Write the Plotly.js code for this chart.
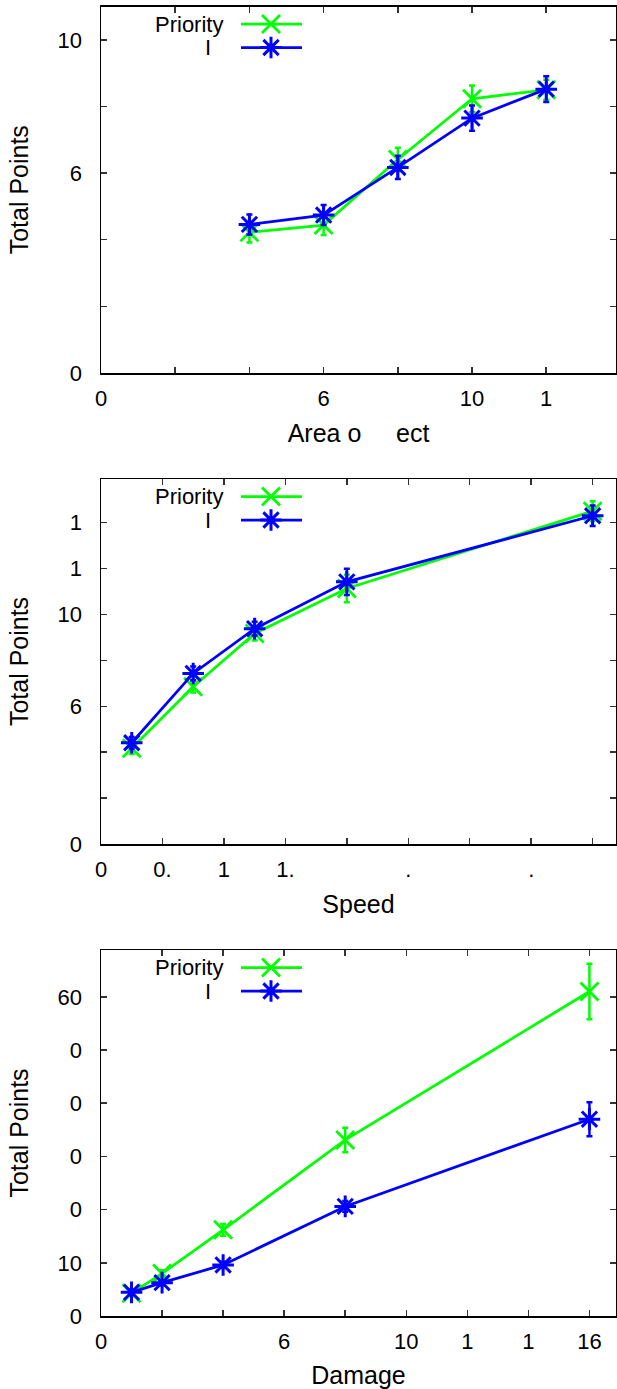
<!DOCTYPE html>
<html>
<head>
<meta charset="utf-8">
<script src="https://cdn.plot.ly/plotly-3.0.1.min.js"></script>
<style>
  html, body { margin: 0; padding: 0; background: #fff; }
  #chart { width: 617px; height: 1389px; }
</style>
</head>
<body>
<div id="chart"></div>
<script>
// ---- data: three sweeps, two schedulers each ----
const seriesNames = ['Priority', 'I\u00a0\u00a0'];

// Panel 1: area of effect
const areaX = [4, 6, 8, 10, 12];
const areaPriority = [4.22, 4.44, 6.41, 8.23, 8.50];
const areaPriorityErr = [0.30, 0.30, 0.35, 0.40, 0.30];
const areaI = [4.46, 4.74, 6.17, 7.65, 8.52];
const areaIErr = [0.30, 0.30, 0.35, 0.38, 0.39];

// Panel 2: speed
const speedX = [0.25, 0.75, 1.25, 2, 4];
const speedPriority = [4.17, 6.85, 9.17, 11.13, 14.5];
const speedPriorityErr = [0.25, 0.25, 0.30, 0.60, 0.43];
const speedI = [4.41, 7.43, 9.38, 11.42, 14.3];
const speedIErr = [0.25, 0.30, 0.30, 0.57, 0.45];

// Panel 3: damage
const damageX = [1, 2, 4, 8, 16];
const damagePriority = [4.26, 8.0, 16.2, 33.1, 61.0];
const damagePriorityErr = [0.5, 0.6, 1.1, 2.3, 5.2];
const damageI = [4.45, 6.27, 9.6, 20.6, 37.0];
const damageIErr = [0.5, 0.5, 0.6, 1.0, 3.2];

// Axis titles and tick labels
const xTitles = ['Area o\u00a0\u00a0\u00a0\u00a0\u00a0ect', 'Speed', 'Damage'];
const yTitle = 'Total Points';

const areaTickVals = [0, 2, 4, 6, 8, 10, 12];
const areaTickText = ['0', '', '', '6', '', '10', '1'];
const speedTickVals = [0, 0.5, 1, 1.5, 2, 2.5, 3, 3.5, 4];
const speedTickText = ['0', '0.', '1', '1.', '', '.', '', '.', ''];
const damageTickVals = [0, 2, 4, 6, 8, 10, 12, 14, 16];
const damageTickText = ['0', '', '', '6', '', '10', '1', '1', '16'];

const areaYVals = [0, 2, 4, 6, 8, 10];
const areaYText = ['0', '', '', '6', '', '10'];
const speedYVals = [0, 2, 4, 6, 8, 10, 12, 14];
const speedYText = ['0', '', '', '6', '', '10', '1', '1'];
const damageYVals = [0, 10, 20, 30, 40, 50, 60];
const damageYText = ['0', '10', '0', '0', '0', '0', '60'];

// ---- styling ----
const W = 617, H = 1389;
const GREEN = '#00ff00';
const BLUE = '#0000ff';
const FONT = 'Liberation Sans, Arial, Helvetica, sans-serif';
const TICK_FONT = { family: FONT, size: 22, color: '#000' };
const TITLE_FONT = { family: FONT, size: 25, color: '#000' };
const X_MARK = { symbol: 'x-thin-open', size: 18, width: 2.75 };
const STAR_MARK = { symbol: 'asterisk-open', size: 18, width: 3 };

// pixel boxes of the three plot frames
const frameLeft = 101, frameRight = 616;
const frames = [
  { top: 6.5, bottom: 373, xr: [0, 13.88], yr: [0, 11] },
  { top: 479, bottom: 844, xr: [0, 4.19], yr: [0, 15.9] },
  { top: 950, bottom: 1316, xr: [0, 16.87], yr: [0, 68.8] }
];

const panels = [
  { x: areaX, p: areaPriority, pe: areaPriorityErr, i: areaI, ie: areaIErr,
    xv: areaTickVals, xt: areaTickText, yv: areaYVals, yt: areaYText },
  { x: speedX, p: speedPriority, pe: speedPriorityErr, i: speedI, ie: speedIErr,
    xv: speedTickVals, xt: speedTickText, yv: speedYVals, yt: speedYText },
  { x: damageX, p: damagePriority, pe: damagePriorityErr, i: damageI, ie: damageIErr,
    xv: damageTickVals, xt: damageTickText, yv: damageYVals, yt: damageYText }
];

function seriesTrace(ax, xs, ys, errs, color, mk) {
  return {
    type: 'scatter', mode: 'lines+markers',
    x: xs, y: ys,
    xaxis: 'x' + ax, yaxis: 'y' + ax,
    line: { color: color, width: 2.75 },
    marker: { symbol: mk.symbol, size: mk.size, color: color, line: { color: color, width: mk.width } },
    error_y: { type: 'data', array: errs, visible: true, color: color, thickness: 2.5, width: 3 },
    showlegend: false, hoverinfo: 'skip', cliponaxis: false
  };
}

const traces = [];
const layout = {
  width: W, height: H,
  margin: { l: 0, r: 0, t: 0, b: 0, pad: 0 },
  paper_bgcolor: '#fff', plot_bgcolor: 'rgba(0,0,0,0)',
  showlegend: false,
  font: { family: FONT, color: '#000' },
  annotations: []
};

panels.forEach((pn, k) => {
  const ax = k === 0 ? '' : String(k + 1);
  const fr = frames[k];
  traces.push(seriesTrace(ax, pn.x, pn.p, pn.pe, GREEN, X_MARK));
  traces.push(seriesTrace(ax, pn.x, pn.i, pn.ie, BLUE, STAR_MARK));

  const common = {
    showline: true, linecolor: '#000', linewidth: 1.5,
    mirror: 'ticks', ticks: 'inside', ticklen: 6, tickwidth: 1.5, tickcolor: '#333',
    showgrid: false, zeroline: false, fixedrange: true,
    tickmode: 'array', tickfont: TICK_FONT
  };
  layout['xaxis' + ax] = Object.assign({}, common, {
    domain: [frameLeft / W, frameRight / W],
    anchor: 'y' + ax,
    range: fr.xr,
    tickvals: pn.xv, ticktext: pn.xt,
    ticklabelstandoff: 5,
    title: { text: xTitles[k], font: TITLE_FONT, standoff: 14 }
  });
  layout['yaxis' + ax] = Object.assign({}, common, {
    domain: [1 - fr.bottom / H, 1 - fr.top / H],
    anchor: 'x' + ax,
    range: fr.yr,
    tickvals: pn.yv, ticktext: pn.yt,
    ticklabelstandoff: 13,
    title: { text: yTitle, font: TITLE_FONT, standoff: 22 }
  });
});

// ---- key boxes: drawn on a full-page pixel axis ----
const keyAx = '4';
layout['xaxis' + keyAx] = { domain: [0, 1], range: [0, W], visible: false, fixedrange: true, anchor: 'y' + keyAx };
layout['yaxis' + keyAx] = { domain: [0, 1], range: [H, 0], visible: false, fixedrange: true, anchor: 'x' + keyAx };

const keyLineX = [241, 302], keyMarkX = 271, keyTextX = 225;
const keyRowOffsets = [17.5, 41];
const keyStyles = [
  { color: GREEN, mk: X_MARK },
  { color: BLUE, mk: STAR_MARK }
];
keyStyles.forEach((st, r) => {
  const lx = [], ly = [], mx = [], my = [];
  frames.forEach(fr => {
    const yy = fr.top + keyRowOffsets[r];
    lx.push(keyLineX[0], keyLineX[1], null); ly.push(yy, yy, null);
    mx.push(keyMarkX); my.push(yy);
    layout.annotations.push({
      xref: 'x' + keyAx, yref: 'y' + keyAx, x: keyTextX, y: yy,
      xanchor: 'right', yanchor: 'middle', showarrow: false,
      text: seriesNames[r], font: TICK_FONT
    });
  });
  traces.push({
    type: 'scatter', mode: 'lines', x: lx, y: ly, xaxis: 'x' + keyAx, yaxis: 'y' + keyAx,
    line: { color: st.color, width: 2.75 }, hoverinfo: 'skip', showlegend: false, connectgaps: false
  });
  traces.push({
    type: 'scatter', mode: 'markers', x: mx, y: my, xaxis: 'x' + keyAx, yaxis: 'y' + keyAx,
    marker: { symbol: st.mk.symbol, size: st.mk.size, color: st.color, line: { color: st.color, width: st.mk.width } },
    hoverinfo: 'skip', showlegend: false
  });
});

Plotly.newPlot('chart', traces, layout, { staticPlot: true, displayModeBar: false });
</script>
</body>
</html>
